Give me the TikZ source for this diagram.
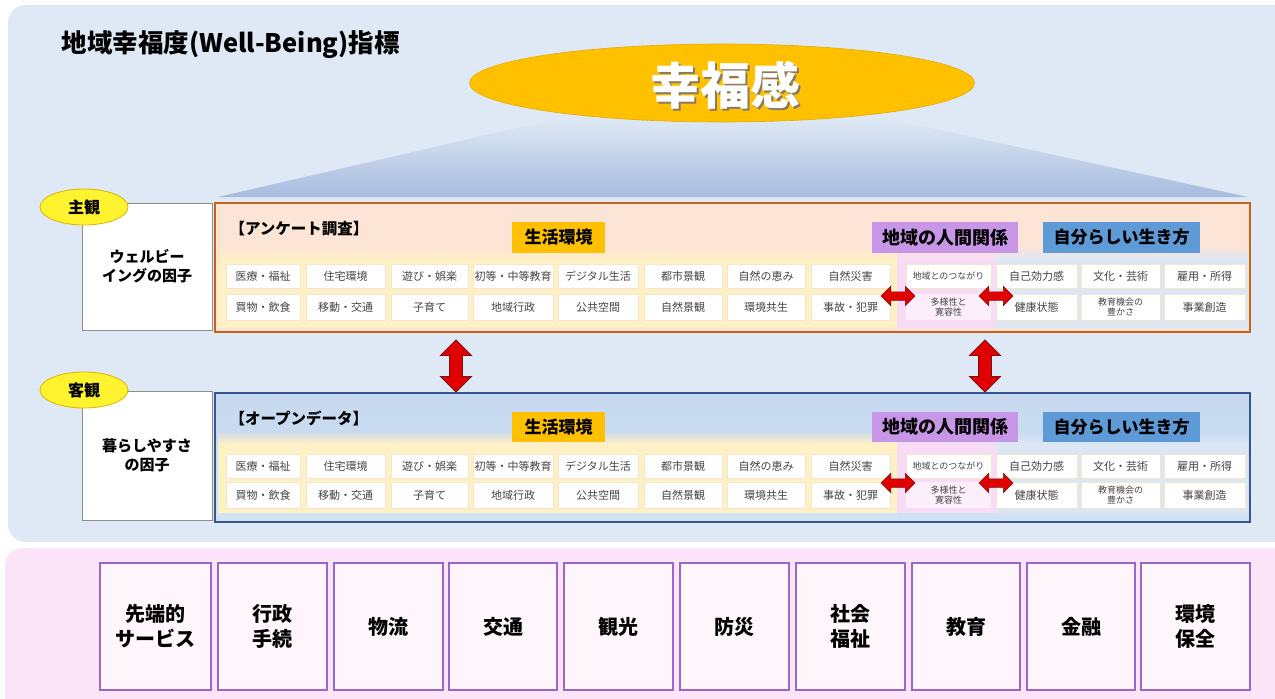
\documentclass[tikz,border=0pt]{standalone}
\usepackage{fontspec}
\setmainfont{Noto Sans CJK JP}
\usetikzlibrary{shapes.arrows,shapes.geometric}

\definecolor{panelblue}{HTML}{DFE9F5}
\definecolor{panelpink}{HTML}{FBE4F7}
\definecolor{gold}{HTML}{FFC000}
\definecolor{golddark}{HTML}{E5AC00}
\definecolor{trapdark}{HTML}{A7BBDE}
\definecolor{peach}{HTML}{FCE4D6}
\definecolor{orangeline}{HTML}{C8621A}
\definecolor{navyline}{HTML}{34578C}
\definecolor{boxblue}{HTML}{C6D9F0}
\definecolor{boxbluelow}{HTML}{D3E2F3}
\definecolor{bandyellow}{HTML}{FFF0C6}
\definecolor{bandpink}{HTML}{F8DCF6}
\definecolor{bandblue}{HTML}{DCE7F4}
\definecolor{labpurple}{HTML}{C896E6}
\definecolor{labblue}{HTML}{5E9AD6}
\definecolor{bubbleyellow}{HTML}{FFF22E}
\definecolor{bubbleline}{HTML}{D9B400}
\definecolor{arrred}{HTML}{E00000}
\definecolor{arrline}{HTML}{7A1010}
\definecolor{celltext}{HTML}{444444}
\definecolor{cellline}{HTML}{F3E6CC}
\definecolor{purpleline}{HTML}{9966CC}
\definecolor{boxpink}{HTML}{FFF6FC}
\definecolor{factorline}{HTML}{8C8C8C}
\definecolor{shadowgray}{HTML}{8A7A60}

\newcommand\rnode[7]{\node[#1, minimum width={#5-#3}, minimum height={#6-#4}, inner sep=0pt] (#2) at ({(#3+#5)/2},{(#4+#6)/2}) {#7};}

\tikzset{
  cellbox/.style={fill=white, draw=cellline, line width=0.4pt, text=celltext, font=\fontsize{11}{12}\selectfont, align=center},
  smallcell/.style={cellbox, font=\fontsize{9}{10}\selectfont},
  labgold/.style={fill=gold, font=\bfseries\fontsize{17}{18}\selectfont},
  labpur/.style={fill=labpurple, font=\bfseries\fontsize{18}{19}\selectfont},
  labblu/.style={fill=labblue, font=\bfseries\fontsize{17}{18}\selectfont},
  factorbox/.style={fill=white, draw=factorline, line width=1pt, align=center, font=\bfseries\fontsize{15}{19}\selectfont},
  bubble/.style={ellipse, fill=bubbleyellow, draw=bubbleline, line width=0.8pt, minimum width=88pt, minimum height=36pt, inner sep=0pt, font=\bfseries\fontsize{16}{17}\selectfont},
  vfat/.style={double arrow, fill=arrred, draw=arrline, line width=0.8pt, minimum height=52pt, inner xsep=0pt, inner ysep=6pt, double arrow head extend=9pt, rotate=90},
  hfat/.style={double arrow, fill=arrred, draw=arrline, line width=0.5pt, minimum height=34pt, inner xsep=0pt, inner ysep=4pt, double arrow head extend=5.5pt},
  svcbox/.style={fill=boxpink, draw=purpleline, line width=1.5pt, align=center, font=\bfseries\fontsize{20}{25}\selectfont},
  sectitle/.style={anchor=west, font=\bfseries\fontsize{15.5}{16}\selectfont},
}

\begin{document}
\begin{tikzpicture}[x=1pt,y=-1pt]
\useasboundingbox (0,0) rectangle (1275,699);
\clip (0,0) rectangle (1275,699);
\fill[white] (0,0) rectangle (1275,699);

% panels
\fill[panelblue, rounded corners=18pt] (8,5) rectangle (1300,542);
\fill[panelpink, rounded corners=18pt] (5,548) rectangle (1300,720);

% title
\node[anchor=west, font=\bfseries\fontsize{25.5}{27}\selectfont] (title) at (58,45) {地域幸福度(Well-Being)指標};

% gradient fan
\shade[top color=panelblue, bottom color=trapdark] (560,118) -- (884,118) -- (1248,197) -- (218,197) -- cycle;

% happiness ellipse
\node[ellipse, fill=gold, draw=golddark, line width=0.6pt, minimum width=505pt, minimum height=78pt] (happy) at (722,83) {};
\node[text=white, font=\bfseries\fontsize{50}{52}\selectfont] (happytext) at (725,86)
  {\makebox[0pt][l]{\hspace{2.5pt}\raisebox{-2.5pt}{\textcolor{shadowgray}{幸福感}}}幸福感};

% ---------- subjective section ----------
\rnode{factorbox}{wbf}{82}{203}{212}{330}{ウェルビー\\イングの因子}
\node[bubble] (subj) at (84,207) {主観};

\rnode{fill=peach}{anq}{215}{203}{1250}{332}{}
\shade[top color=peach, bottom color=bandyellow] (218,246) rectangle (897,260);
\fill[bandyellow] (218,260) rectangle (897,328);
\shade[top color=peach, bottom color=bandpink] (897,246) rectangle (996,260);
\fill[bandpink] (897,260) rectangle (996,328);
\shade[top color=peach, bottom color=bandblue] (996,246) rectangle (1248,260);
\fill[bandblue] (996,260) rectangle (1248,328);
\draw[orangeline, line width=2.5pt] (anq.north west) rectangle (anq.south east);

\node[sectitle] (anqtitle) at (226,229) {【アンケート調査】};
\rnode{labgold}{anqL1}{512}{222}{605}{253}{生活環境}
\rnode{labpur}{anqL2}{872}{222}{1018}{253}{地域の人間関係}
\rnode{labblu}{anqL3}{1043}{222}{1200}{253}{自分らしい生き方}

% ---------- objective section ----------
\rnode{factorbox}{lvf}{82}{391}{212}{520}{暮らしやすさ\\の因子}
\node[bubble] (obj) at (84,390) {客観};

\rnode{top color=boxblue, bottom color=boxbluelow}{opn}{215}{393}{1250}{522}{}
\shade[top color=boxblue, bottom color=bandyellow] (218,430) rectangle (897,444);
\fill[bandyellow] (218,444) rectangle (897,513);
\shade[top color=boxblue, bottom color=bandpink] (897,430) rectangle (996,444);
\fill[bandpink] (897,444) rectangle (996,513);
\shade[top color=boxblue, bottom color=bandblue] (996,430) rectangle (1248,444);
\fill[bandblue] (996,444) rectangle (1248,513);
\draw[navyline, line width=2.5pt] (opn.north west) rectangle (opn.south east);

\node[sectitle] (opntitle) at (226,418) {【オープンデータ】};
\rnode{labgold}{opnL1}{512}{412}{605}{442}{生活環境}
\rnode{labpur}{opnL2}{872}{412}{1018}{442}{地域の人間関係}
\rnode{labblu}{opnL3}{1043}{412}{1200}{442}{自分らしい生き方}

% ---------- cells ----------
\foreach \s/\ya/\yb/\yc/\yd/\ym in {A/264/288/294/320/296, B/454/478/482/508/483}{
  \foreach \i/\xa/\xb/\t in {1/226/300/医療・福祉, 2/306/385/住宅環境, 3/391/468/遊び・娯楽, 4/473/553/初等・中等教育, 5/558/638/デジタル生活, 6/644/722/都市景観, 7/727/805/自然の恵み, 8/811/890/自然災害, 10/996/1077/自己効力感, 11/1081/1160/文化・芸術, 12/1164/1245/雇用・所得}{
    \rnode{cellbox}{\s r1c\i}{\xa}{\ya}{\xb}{\yb}{\t}
  }
  \rnode{smallcell}{\s r1c9}{906}{\ya}{991}{\yb}{地域とのつながり}
  \foreach \i/\xa/\xb/\t in {1/226/300/買物・飲食, 2/306/385/移動・交通, 3/391/468/子育て, 4/473/553/地域行政, 5/558/638/公共空間, 6/644/722/自然景観, 7/727/805/環境共生, 8/811/890/事故・犯罪, 10/996/1077/健康状態, 12/1164/1245/事業創造}{
    \rnode{cellbox}{\s r2c\i}{\xa}{\yc}{\xb}{\yd}{\t}
  }
  \rnode{smallcell, fill=white!55!bandpink, draw=none}{\s r2c9}{906}{\yc}{991}{\yd}{多様性と\\寛容性}
  \rnode{smallcell}{\s r2c11}{1081}{\yc}{1160}{\yd}{教育機会の\\豊かさ}
  \node[hfat] (\s ha1) at (898,\ym) {};
  \node[hfat] (\s ha2) at (996,\ym) {};
}

% vertical links between the two surveys
\node[vfat] (linkL) at (456,366) {};
\node[vfat] (linkR) at (985,366) {};

% ---------- services ----------
\foreach \i/\xa/\xb/\t in {1/100/211/{先端的\\サービス}, 2/218/327/{行政\\手続}, 3/334/443/物流, 4/449/557/交通, 5/564/673/観光, 6/680/789/防災, 7/796/905/{社会\\福祉}, 8/912/1020/教育, 9/1027/1135/金融, 10/1141/1250/{環境\\保全}}{
  \rnode{svcbox}{svc\i}{\xa}{563}{\xb}{690}{\t}
}
\end{tikzpicture}
\end{document}
